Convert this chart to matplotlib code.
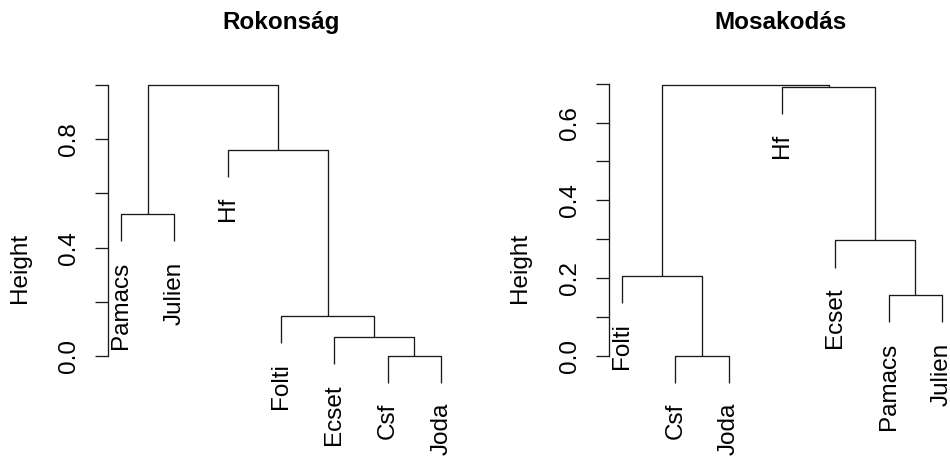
import matplotlib
matplotlib.use("Agg")
import matplotlib.pyplot as plt
from matplotlib.transforms import offset_copy

plt.rcParams['font.family'] = ['Liberation Sans', 'DejaVu Sans']

# ---------------- data ----------------
rok_title = "Rokonság"
rok_leaves = ["Pamacs", "Julien", "Hf", "Folti", "Ecset", "Csf", "Joda"]
# merge pairs: negative = leaf position (1-based, in plotted order), positive = earlier merge step
rok_merge = [(-6, -7), (-5, 1), (-4, 2), (-1, -2), (-3, 3), (4, 5)]
rok_height = [0.0, 0.069, 0.148, 0.523, 0.760, 1.0]
rok_ticks = [0.0, 0.2, 0.4, 0.6, 0.8, 1.0]
rok_ticklabels = ["0.0", "", "0.4", "", "0.8", ""]

mos_title = "Mosakodás"
mos_leaves = ["Folti", "Csf", "Joda", "Hf", "Ecset", "Pamacs", "Julien"]
mos_merge = [(-2, -3), (-6, -7), (-1, 1), (-5, 2), (-4, 4), (3, 5)]
mos_height = [0.0, 0.156, 0.206, 0.297, 0.692, 0.697]
mos_ticks = [0.0, 0.1, 0.2, 0.3, 0.4, 0.5, 0.6, 0.7]
mos_ticklabels = ["0.0", "", "0.2", "", "0.4", "", "0.6", ""]

ylabel = "Height"
HANG = 0.1

# ---------------- layout ----------------
W, H, DPI = 950, 459, 100
FS = 17.5
LINE = '#1a1a1a'

fig = plt.figure(figsize=(W / DPI, H / DPI), dpi=DPI)


def fx(px):
    return px / W


def fy(py):
    return 1 - py / H


def make_axes(x0, x1, top, bottom, zero_px, scale):
    ax = fig.add_axes([fx(x0), fy(bottom), fx(x1 - x0), (bottom - top) / H])
    ax.set_xlim(0.76, 7.24)
    ax.set_ylim((zero_px - bottom) / scale, (zero_px - top) / scale)
    ax.patch.set_alpha(0)
    for s in ('top', 'right', 'bottom'):
        ax.spines[s].set_visible(False)
    ax.set_xticks([])
    return ax


def draw_dendro(ax, leaves, merge, heights, ticks, ticklabels):
    hang = HANG * (max(heights) - min(heights))
    lab_tr = offset_copy(ax.transData, fig=fig, y=-14.4, units='points')
    node_x = {}
    for i, (a, b) in enumerate(merge, start=1):
        h = heights[i - 1]
        xs, ys = [], []
        for c in (a, b):
            if c < 0:
                x = float(-c)
                y = h - hang
                ax.text(x, y, leaves[-c - 1], rotation=90, ha='center', va='top',
                        fontsize=FS, transform=lab_tr, clip_on=False)
            else:
                x = node_x[c]
                y = heights[c - 1]
            xs.append(x)
            ys.append(y)
        ax.plot([xs[0], xs[0], xs[1], xs[1]], [ys[0], h, h, ys[1]],
                color=LINE, lw=0.95, clip_on=False, solid_capstyle='butt')
        node_x[i] = (xs[0] + xs[1]) / 2
    ax.spines['left'].set_bounds(ticks[0], ticks[-1])
    ax.spines['left'].set_color(LINE)
    ax.spines['left'].set_linewidth(0.95)
    ax.set_yticks(ticks)
    ax.set_yticklabels(ticklabels)
    ax.tick_params(axis='y', length=9.4, width=0.95, color=LINE, pad=11,
                   labelsize=FS, labelrotation=90)
    for t in ax.get_yticklabels():
        t.set_va('center')


# left panel
axL = make_axes(108, 454, 60, 476, 356, 271)
draw_dendro(axL, rok_leaves, rok_merge, rok_height, rok_ticks, rok_ticklabels)
fig.text(fx(281), fy(29), rok_title, ha='center', va='baseline',
         fontsize=FS, fontweight='bold')
fig.text(fx(20), fy(268), ylabel, rotation=90, ha='center', va='center', fontsize=FS)

# right panel
axR = make_axes(609.3, 954.7, 60, 476, 356, 389)
draw_dendro(axR, mos_leaves, mos_merge, mos_height, mos_ticks, mos_ticklabels)
fig.text(fx(781), fy(29), mos_title, ha='center', va='baseline',
         fontsize=FS, fontweight='bold')
fig.text(fx(520), fy(268), ylabel, rotation=90, ha='center', va='center', fontsize=FS)

fig.savefig("out.png", dpi=DPI, facecolor='white')
